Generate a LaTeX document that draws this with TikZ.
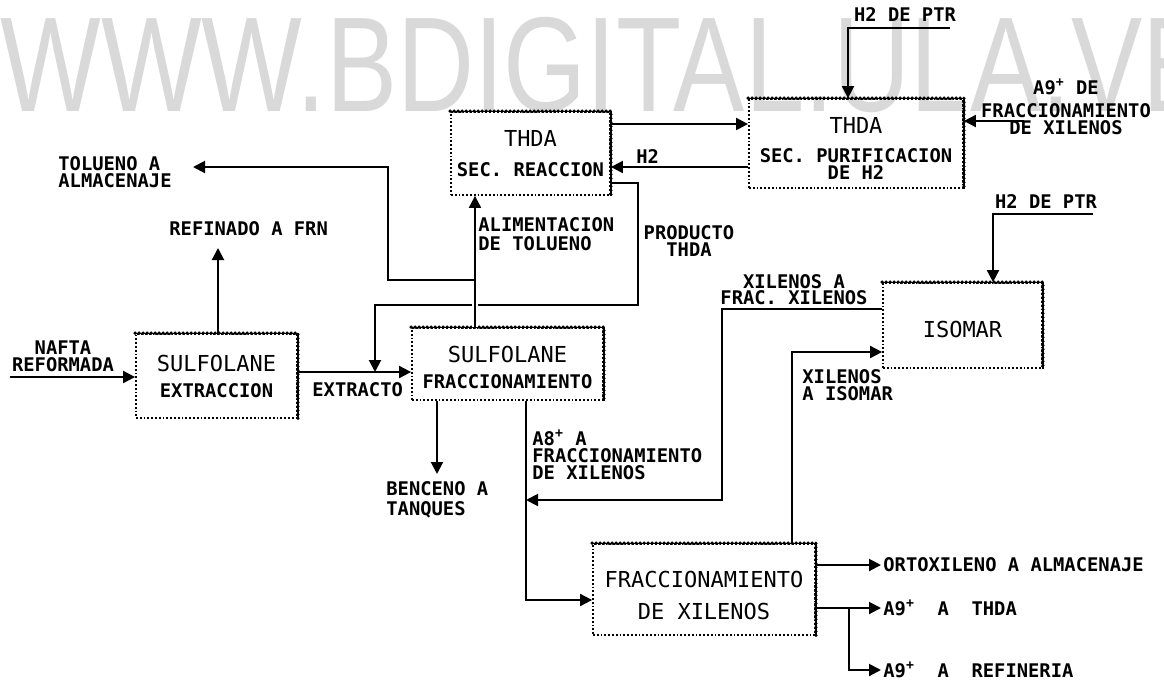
\documentclass[tikz,border=0pt]{standalone}
\usepackage{graphicx}
\usepackage{fontspec}
\newfontfamily\plotfont{DejaVu Sans Mono}
\newfontfamily\markfont{Liberation Sans}
\usetikzlibrary{arrows.meta,positioning,calc}
\newcommand{\subtxt}[1]{{\bfseries\fontsize{9.4}{11}\selectfont #1}}

\begin{document}
\begin{tikzpicture}[x=0.5pt,y=-0.5pt,>={Triangle[length=6pt,width=6pt]}]
\tikzset{unit/.style={draw,densely dotted,line width=0.9pt,inner sep=0pt},
  utext/.style={align=center,inner sep=0pt,font=\plotfont\fontsize{11}{13}\selectfont},
  rim/.style={line width=1.8pt,dash pattern=on 0pt off 2pt,line cap=round},
  lbl/.style={font=\plotfont\bfseries\fontsize{9.4}{8.5}\selectfont,align=left,inner sep=1pt},
  flow/.style={->,line width=1pt},
  wmark/.style={text=black!15,font=\markfont\fontsize{67.5}{70}\selectfont,inner sep=0pt}}
\fill[white] (0,0) rectangle (1164,681);
\useasboundingbox (0,0) rectangle (1164,681);
% watermark
\begin{scope}
\clip (0,0) rectangle (1164,681);
\node[wmark,anchor=base west] (wm) at (0,111) {\scalebox{0.79}[1]{WWW.BDIGITAL.ULA.VE}};
\end{scope}
% units
\node[unit,minimum width=79.5pt,minimum height=41.5pt] (thdar) at (530.5,153.5) {};
\node[unit,minimum width=107pt,minimum height=44.5pt] (thdap) at (856,143.5) {};
\node[unit,minimum width=80.5pt,minimum height=42pt] (sulfe) at (216.5,376) {};
\node[unit,minimum width=95.5pt,minimum height=36pt] (sulff) at (507.5,364) {};
\node[unit,minimum width=79.5pt,minimum height=42.5pt] (isomar) at (962.5,325.5) {};
\node[unit,minimum width=111pt,minimum height=45.5pt] (fxil) at (704,589.5) {};
\foreach \b in {thdar,thdap,sulfe,sulff,isomar,fxil}{
  \draw[line width=0.6pt] (\b.north west) -- (\b.north east) -- (\b.south east);
  \draw[rim] (\b.north west) -- (\b.north east) -- (\b.south east);}
\node[utext] (thdart) at (thdar.center) {THDA\\[2pt]\subtxt{SEC. REACCION}};
\node[utext] (thdapt) at ([yshift=-2.25pt]thdap.center) {THDA\\[1.5pt]\subtxt{SEC. PURIFICACION}\\[-4.5pt]\subtxt{DE H2}};
\node[utext] (sulfet) at (sulfe.center) {SULFOLANE\\\subtxt{EXTRACCION}};
\node[utext] (sulfft) at ([yshift=-1.5pt]sulff.center) {SULFOLANE\\\subtxt{FRACCIONAMIENTO}};
\node[utext] (isomart) at ([yshift=-2pt]isomar.center) {ISOMAR};
\node[utext] (fxilt) at ([yshift=-2.75pt]fxil.center) {FRACCIONAMIENTO\\[3pt]DE XILENOS};
% labels
\node[lbl,align=center] (nafta) at (63,356) {NAFTA\\REFORMADA};
\node[lbl,anchor=west] (refin) at (167,229) {REFINADO A FRN};
\node[lbl,anchor=west] (tolalm) at (56,172) {TOLUENO A\\ALMACENAJE};
\node[lbl,anchor=west] (extr) at (310,390) {EXTRACTO};
\node[lbl,anchor=west,font=\plotfont\bfseries\fontsize{9.4}{9.5}\selectfont] (alim) at (476,234) {ALIMENTACION\\DE TOLUENO};
\node[lbl,align=center] (prod) at (689,241) {PRODUCTO\\THDA};
\node[lbl,anchor=west] (h2lbl) at (634,157) {H2};
\node[lbl] (ptra) at (905,15) {H2 DE PTR};
\node[lbl,align=center,font=\plotfont\bfseries\fontsize{9.4}{9}\selectfont] (a9de) at (1066,107) {A9\textsuperscript{+} DE\\[2.5pt]FRACCIONAMIENTO\\[-0.5pt]DE XILENOS};
\node[lbl] (ptrb) at (1046,202) {H2 DE PTR};
\node[lbl,align=center,font=\plotfont\bfseries\fontsize{9.4}{7}\selectfont] (xfrac) at (794,290) {XILENOS A\\FRAC. XILENOS};
\node[lbl,anchor=west] (xiso) at (800,385) {XILENOS\\A ISOMAR};
\node[lbl,anchor=west] (a8) at (530,455) {A8\textsuperscript{+} A\\FRACCIONAMIENTO\\DE XILENOS};
\node[lbl,anchor=west,font=\plotfont\bfseries\fontsize{9.4}{10}\selectfont] (benc) at (384,500) {BENCENO A\\TANQUES};
\node[lbl,anchor=west] (ortho) at (881,565) {ORTOXILENO A ALMACENAJE};
\node[lbl,anchor=west] (a9thda) at (881,608) {A9\textsuperscript{+}\ \ A\ \ THDA};
\node[lbl,anchor=west] (a9ref) at (881,670) {A9\textsuperscript{+}\ \ A\ \ REFINERIA};
% points
\coordinate (naftain) at (10,377);
\coordinate (refout) at (218,248);
\coordinate (tolsplit) at (475,280);
\coordinate (tolout) at (193,167);
\coordinate (recin) at (375,372);
\coordinate (ptrain) at (950,28);
\coordinate (a9in) at (1024,121);
\coordinate (ptrbin) at (1093,214);
\coordinate (xret) at (526,500);
\coordinate (bencout) at (437,474);
\coordinate (a9split) at (849,608);
% streams
\draw[flow] (naftain) -- (sulfe.west |- naftain);
\draw[flow] (sulfe.north -| refout) -- (refout);
\draw[flow] (sulfe.east |- 0,372) -- (sulff.west |- 0,372);
\draw[flow] (thdar.east |- 0,183) -| (638,305) -| (recin);
\draw[flow,preaction={draw=white,line width=3pt,-}] (sulff.north -| tolsplit) -- (thdar.south -| tolsplit);
\draw[flow] (tolsplit) -| (388,167) -- (tolout);
\draw[flow] (thdar.east |- 0,124) -- (thdap.west |- 0,124);
\draw[flow] (thdap.west |- 0,167) -- (thdar.east |- 0,167);
\draw[flow] (ptrain) -| (thdap.north -| 848,0);
\draw[flow] (a9in) -- (thdap.east |- a9in);
\draw[flow] (ptrbin) -| (isomar.north -| 993,0);
\draw[flow] (isomar.west |- 0,309) -| (722,500) -- (xret);
\draw[flow] (fxil.north -| 792,0) |- (isomar.west |- 0,352);
\draw[flow] (sulff.south -| xret) |- (fxil.west |- 0,600);
\draw[flow] (sulff.south -| bencout) -- (bencout);
\draw[flow] (fxil.east |- ortho) -- (ortho.west);
\draw[flow] (fxil.east |- a9thda) -- (a9thda.west);
\draw[flow] (a9split) |- (a9ref.west);
\end{tikzpicture}
\end{document}
